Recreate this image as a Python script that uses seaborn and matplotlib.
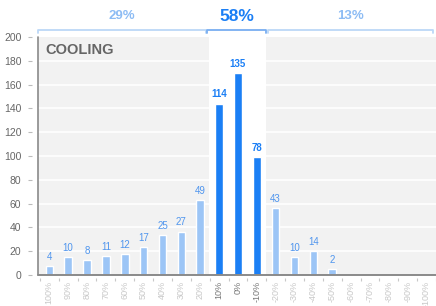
import matplotlib
matplotlib.use("Agg")
import matplotlib.pyplot as plt
import matplotlib.transforms as mtransforms
import seaborn as sns
import pandas as pd
import numpy as np

# ---- data ----
categories = ["100%", "90%", "80%", "70%", "60%", "50%", "40%", "30%", "20%", "10%",
              "0%", "-10%", "-20%", "-30%", "-40%", "-50%", "-60%", "-70%", "-80%",
              "-90%", "-100%"]
bar_heights = [7.5, 15, 12.5, 16, 17.5, 23.5, 33.5, 36.5, 63, 144, 170, 99, 56,
               15, 20, 5, 0, 0, 0, 0, 0]
counts = [4, 10, 8, 11, 12, 17, 25, 27, 49, 114, 135, 78, 43, 10, 14, 2,
          None, None, None, None, None]
group_labels = ["29%", "58%", "13%"]
panel_title = "COOLING"
y_ticks = [0, 20, 40, 60, 80, 100, 120, 140, 160, 180, 200]
center_idx = [9, 10, 11]

# ---- style ----
sns.set_theme(style="white")
plt.rcParams["font.family"] = ["Liberation Sans", "DejaVu Sans"]

LIGHT = "#9cc5f6"
DARK = "#1b7ff5"
LABEL_LIGHT = "#4f95ee"

df = pd.DataFrame({"cat": categories, "h": bar_heights})
colors = [DARK if i in center_idx else LIGHT for i in range(len(categories))]

fig = plt.figure(figsize=(4.36, 3.06), dpi=100)
ax = fig.add_axes([38 / 436, 31 / 306, 398 / 436, 238 / 306])
ax.set_facecolor("#f2f2f2")

sns.barplot(data=df, x="cat", y="h", hue="cat", palette=colors, legend=False,
            width=0.4, ax=ax, zorder=3, saturation=1)

xmin, xmax = -0.6, 20.3
ax.set_xlim(xmin, xmax)
ax.set_ylim(0, 200)

# white band behind the central bars
ax.axvspan(8.45, 11.5, color="white", zorder=1, lw=0)

# grid
ax.set_yticks(y_ticks)
for y in y_ticks[1:-1]:
    ax.axhline(y, color="white", lw=1.2, zorder=0.8)

# spines
for s in ["top", "right"]:
    ax.spines[s].set_visible(False)
ax.spines["left"].set_position(("outward", 4))
ax.spines["left"].set_visible(False)
ax.spines["bottom"].set_position(("outward", 2))
ax.spines["bottom"].set_visible(False)
ax.axvline(xmin, color="#8a8a8a", lw=1.2, zorder=4, clip_on=False)
ax.axhline(0, color="#8a8a8a", lw=1.4, zorder=4, clip_on=False)

ax.set_xlabel("")
ax.set_ylabel("")
ax.tick_params(axis="y", length=3, width=0.8, color="#bbbbbb", pad=5,
               labelsize=7.5, labelcolor="#666666", left=True)
ax.set_xticks(range(len(categories)))
ax.set_xticklabels(categories, rotation=90)
ax.tick_params(axis="x", which="major", length=0, pad=2, labelsize=6.5,
               labelcolor="#c8c8c8")
ax.set_xticks(np.arange(-0.5, len(categories), 1), minor=True)
ax.tick_params(axis="x", which="minor", length=2.5, width=0.8, color="#c8c8c8",
               bottom=True)
for i, lab in enumerate(ax.get_xticklabels()):
    if i in center_idx:
        lab.set_color("#777777")

# value labels
for i, (h, c) in enumerate(zip(bar_heights, counts)):
    if c is None:
        continue
    central = i in center_idx
    ax.annotate(str(c), (i, h), xytext=(0, 3), textcoords="offset points",
                ha="center", va="bottom", fontsize=7,
                fontweight="bold" if central else "normal",
                color=DARK if central else LABEL_LIGHT, zorder=5)

# panel title
ax.text(0.019, 0.945, panel_title, transform=ax.transAxes, ha="left",
        va="center", fontsize=10.5, fontweight="bold", color="#666666", zorder=5)

# brackets and group percentages
trans = mtransforms.blended_transform_factory(ax.transData, ax.transAxes)
brackets = [(xmin, 8.29, "#bcd8f7", "#8dbcf4", 9.5),
            (8.38, 11.5, "#78aef1", DARK, 12.5),
            (11.58, xmax + 0.05, "#bcd8f7", "#8dbcf4", 9.5)]
for (x0, x1, lc, tc, fs), lab in zip(brackets, group_labels):
    ax.plot([x0, x0, x1, x1], [1.016, 1.031, 1.031, 1.016], color=lc, lw=1.3,
            transform=trans, clip_on=False, zorder=5)
    ax.text((x0 + x1) / 2, 1.088, lab, transform=trans, ha="center",
            va="center", fontsize=fs, fontweight="bold", color=tc)

fig.savefig("out.png", dpi=100)
